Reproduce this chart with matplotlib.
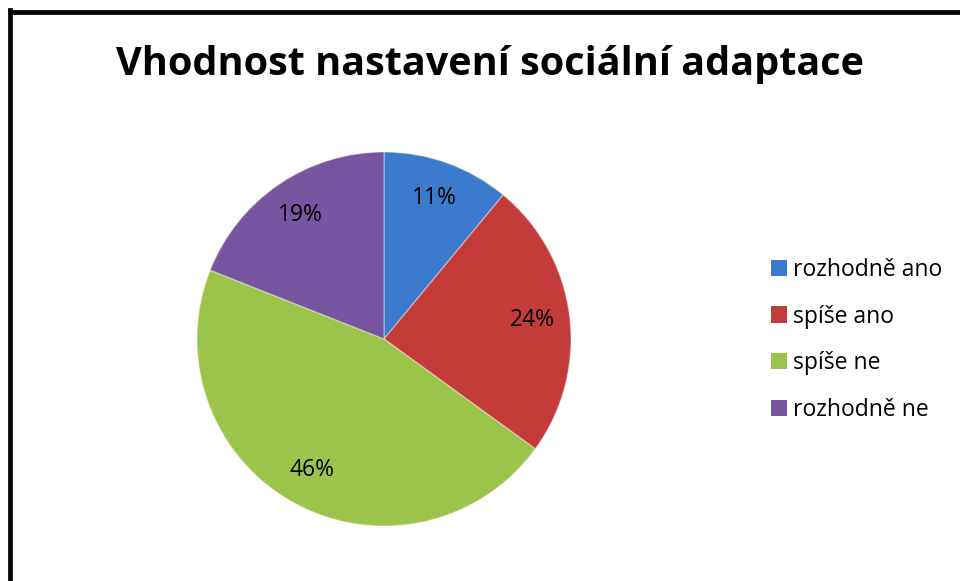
import matplotlib
matplotlib.use("Agg")
import matplotlib.pyplot as plt
from matplotlib.lines import Line2D
from matplotlib.patches import Rectangle

title = "Vhodnost nastavení sociální adaptace"
categories = ["rozhodně ano", "spíše ano", "spíše ne", "rozhodně ne"]
shares = [11, 24, 46, 19]
colors = ["#3b7acc", "#c43c3a", "#9cc44a", "#7656a0"]

W, H = 960, 581
fig = plt.figure(figsize=(W / 100, H / 100), dpi=100)
plt.rcParams["font.family"] = ["Open Sans", "DejaVu Sans"]

# pie placed by pixel centre / radius
cx, cy, r = 384, 339, 187
ax = fig.add_axes([(cx - r) / W, (H - cy - r) / H, 2 * r / W, 2 * r / H])
wedges, texts, autotexts = ax.pie(
    shares, colors=colors, startangle=90, counterclock=False, radius=1,
    autopct=lambda p: "%d%%" % round(p), pctdistance=0.8,
    wedgeprops=dict(edgecolor=(1, 1, 1, 0.35), linewidth=1.0),
    textprops=dict(fontsize=16.5, color="black"))
ax.set_xlim(-1, 1)
ax.set_ylim(-1, 1)
ax.set_aspect("equal")
ax.axis("off")

fig.text(490 / W, 1 - 64 / H, title, ha="center", va="center",
         fontsize=28.5, fontweight="bold")

handles = [Rectangle((0, 0), 1, 1, facecolor=c, edgecolor="none") for c in colors]
fig.legend(handles, categories, loc="center left",
           bbox_to_anchor=(771 / W, 1 - 340 / H), frameon=False, borderpad=0,
           borderaxespad=0, fontsize=16.5, handlelength=0.7, handleheight=0.7,
           handletextpad=0.25, labelspacing=1.0)

# frame (cut off at right and bottom)
fig.add_artist(Line2D([10 / W, 10 / W], [0, 1 - 10 / H], color="black", linewidth=3.4,
                      transform=fig.transFigure, solid_capstyle="projecting"))
fig.add_artist(Line2D([10 / W, 1], [1 - 11.5 / H, 1 - 11.5 / H], color="black",
                      linewidth=3.4, transform=fig.transFigure, solid_capstyle="projecting"))

fig.savefig("out.png", dpi=100)
